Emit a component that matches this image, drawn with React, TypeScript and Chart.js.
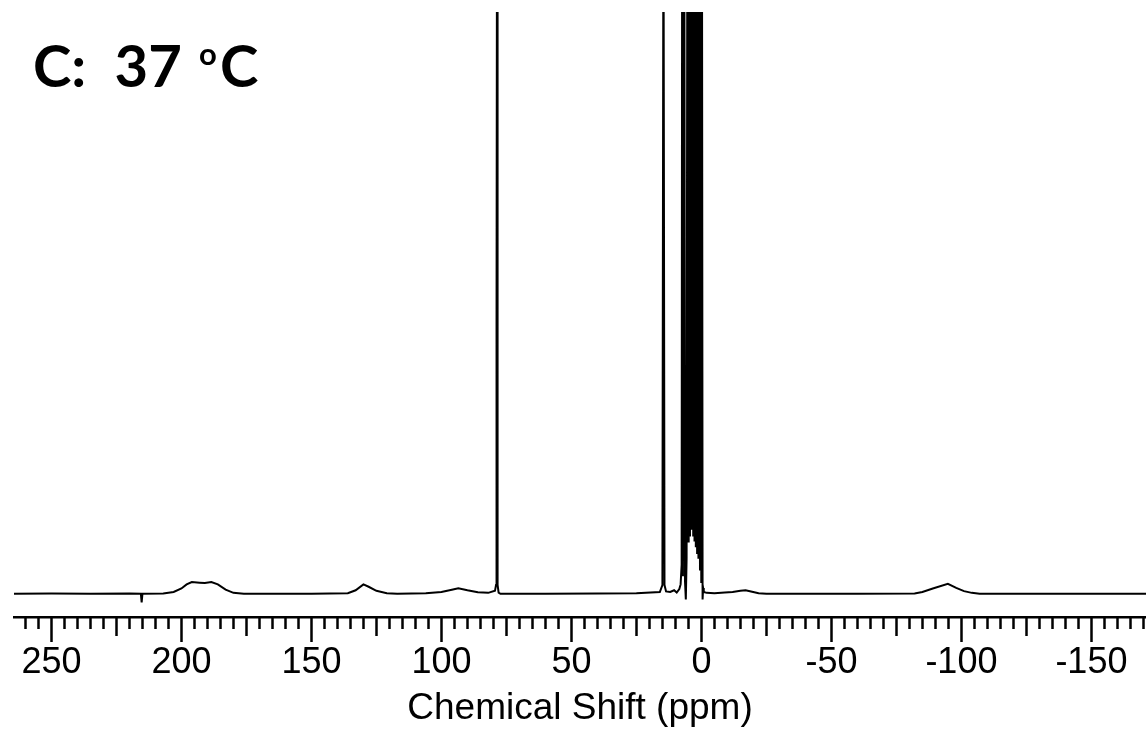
import React, { useEffect, useRef } from 'react';
import { Chart, registerables } from 'chart.js';

Chart.register(...registerables);

// Chemical shift (ppm) of each spectrum point
const shiftPpm: number[] = [
  264.4, 250, 235, 220, 215.6, 215.3, 215.0, 207, 203, 200,
  198, 196, 193, 191, 188.5, 186, 183, 180, 176, 150,
  136, 133, 130, 128, 125, 121, 117, 106, 100, 96,
  93.5, 90, 86, 82, 79.4, 79.0, 78.8, 78.6, 78.4, 78.0,
  77.3, 60, 40, 25, 16.0, 15.0, 14.6, 14.2, 13.6, 12,
  10.5, 9.5, 8.5, 8.0, 7.6, 7.4, 7.1, 6.6, 6.3, 6.0,
  5.7, 5.4, 5.15, 4.9, 4.65, 4.4, 4.15, 3.9, 3.65, 3.4,
  3.15, 2.9, 2.65, 2.4, 2.15, 1.9, 1.65, 1.4, 1.15, 0.8,
  0.55, 0.3, 0.05, -0.2, -0.45, -0.65, -0.9, -2, -5, -9,
  -12, -15, -17, -19.5, -22, -25, -60, -82, -85, -89,
  -94.8, -98, -101, -104, -107, -171,
];

// Intensity (arbitrary units, plot top = 100)
const intensity: number[] = [
  0, 0.05, 0, 0.05, 0, -1.5, 0, 0.05, 0.3, 0.9,
  1.6, 2.0, 1.9, 1.85, 2.0, 1.6, 0.7, 0.15, 0, 0,
  0.1, 0.6, 1.6, 1.2, 0.5, 0.1, 0, 0.1, 0.3, 0.7,
  0.95, 0.6, 0.25, 0.15, 0.5, 1.5, 46, 130, 1.5, 0.2,
  0, 0, 0.05, 0.1, 0.3, 1.5, 125, 1.5, 0.4, 0.3,
  0.6, 0.2, 0.8, 1.6, 5, 125, 3, 125, 2, -1.0,
  6, 125, 9, 125, 10, 125, 11, 125, 11, 125,
  10, 125, 9, 125, 8, 125, 7, 125, 6, 125,
  4, 90, 2, 125, -1.0, 1, 0.3, 0.15, 0.1, 0.2,
  0.3, 0.5, 0.6, 0.35, 0.1, 0, 0, 0.05, 0.3, 0.9,
  1.7, 1.0, 0.45, 0.15, 0, 0,
];

const majorTicks: number[] = [-150, -100, -50, 0, 50, 100, 150, 200, 250];
const tickLabels: string[] = ['-150', '-100', '-50', '0', '50', '100', '150', '200', '250'];
const minorStep = 5;
const mediumStep = 25;
const majorStep = 50;

const xMin = -171;
const xMax = 264.4;
const yMin = -4;
const yMax = 100;

const axisTitle = 'Chemical Shift (ppm)';
const panelLabelMain = 'C:  37 ';
const panelLabelSup = 'o';
const panelLabelEnd = 'C';

const tickMarksPlugin = {
  id: 'tickMarks',
  afterDraw(chart: any) {
    const scale = chart.scales.x;
    const ctx = chart.ctx;
    ctx.save();
    ctx.strokeStyle = '#000';
    ctx.lineWidth = 2.5;
    const start = Math.ceil(xMin / minorStep) * minorStep;
    for (let v = start; v <= xMax; v += minorStep) {
      const x = Math.round(scale.getPixelForValue(v)) + 0.5;
      let len = 12;
      if (v % majorStep === 0) len = 25;
      else if (v % mediumStep === 0) len = 19;
      ctx.beginPath();
      ctx.moveTo(x, scale.top);
      ctx.lineTo(x, scale.top + len);
      ctx.stroke();
    }
    ctx.restore();
  },
};

const panelLabelPlugin = {
  id: 'panelLabel',
  afterDraw(chart: any) {
    const ctx = chart.ctx;
    ctx.save();
    ctx.fillStyle = '#000';
    ctx.textBaseline = 'alphabetic';
    ctx.font = 'bold 58px Lato';
    ctx.fillText(panelLabelMain, 33, 87);
    ctx.font = 'bold 31px Lato';
    ctx.fillText(panelLabelSup, 199, 65);
    ctx.font = 'bold 58px Lato';
    ctx.fillText(panelLabelEnd, 220, 87);
    ctx.restore();
  },
};

export default function App() {
  const canvasRef = useRef<HTMLCanvasElement | null>(null);

  useEffect(() => {
    if (!canvasRef.current) return;
    const data = shiftPpm.map((x, i) => ({ x, y: intensity[i] }));
    const chart = new Chart(canvasRef.current, {
      type: 'line',
      data: {
        datasets: [
          {
            data,
            borderColor: '#000',
            borderWidth: 2,
            pointRadius: 0,
            tension: 0,
            fill: false,
          },
        ],
      },
      options: {
        animation: false,
        responsive: true,
        maintainAspectRatio: false,
        layout: { padding: { left: 14, right: 0, top: 12, bottom: 0 } },
        plugins: {
          legend: { display: false },
          tooltip: { enabled: false },
          title: { display: false },
        },
        scales: {
          x: {
            type: 'linear',
            reverse: true,
            min: xMin,
            max: xMax,
            afterBuildTicks: (scale: any) => {
              scale.ticks = majorTicks.map((v) => ({ value: v }));
            },
            afterFit: (scale: any) => {
              scale.height = 112;
            },
            grid: { display: false, drawTicks: false },
            border: { display: true, color: '#000', width: 2.5 },
            ticks: {
              autoSkip: false,
              maxRotation: 0,
              padding: 24,
              color: '#000',
              font: { family: 'Liberation Sans', size: 36 },
              callback: (_v: any, i: number) => tickLabels[i],
            },
            title: {
              display: true,
              text: axisTitle,
              color: '#000',
              font: { family: 'Liberation Sans', size: 37, lineHeight: 1.1 },
              padding: 0,
            },
          },
          y: {
            display: false,
            min: yMin,
            max: yMax,
          },
        },
      },
      plugins: [tickMarksPlugin, panelLabelPlugin],
    });
    return () => chart.destroy();
  }, []);

  return (
    <div style={{ position: 'fixed', left: 0, top: 0, width: 1146, height: 729, background: '#fff' }}>
      <canvas ref={canvasRef} />
    </div>
  );
}
